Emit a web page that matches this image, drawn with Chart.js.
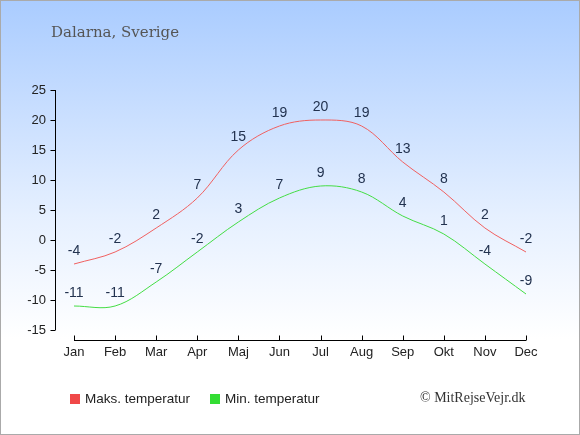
<!DOCTYPE html>
<html>
<head>
<meta charset="utf-8">
<script src="https://cdn.jsdelivr.net/npm/chart.js@4"></script>
<style>
  body { margin: 0; }
  #wrap {
    position: relative; width: 580px; height: 435px; box-sizing: border-box;
    border: 1px solid #aaaaaa;
    background: linear-gradient(to bottom, #aaccff 0%, #e6f0ff 50%, #ffffff 78%, #ffffff 100%);
    overflow: hidden;
  }
  #myChart { position: absolute; left: -1px; top: -1px; }
  .title { position: absolute; left: 50px; top: 22px; font: 15px "DejaVu Serif", serif; color: #555; }
  .leg { position: absolute; top: 390px; font: 13.5px "Liberation Sans", Arial, sans-serif; color: #222; }
  .leg i { display: inline-block; width: 10px; height: 10px; margin-right: 5px; vertical-align: -1px; }
  .copy { position: absolute; left: 419px; top: 389px; font: 14px "Liberation Serif", serif; color: #333; }
</style>
</head>
<body>
<div id="wrap">
  <canvas id="myChart" width="580" height="435"></canvas>
  <div class="title">Dalarna, Sverige</div>
  <div class="leg" style="left:69px"><i style="background:#f04848"></i>Maks. temperatur</div>
  <div class="leg" style="left:209px"><i style="background:#33dd33"></i>Min. temperatur</div>
  <div class="copy">© MitRejseVejr.dk</div>
</div>
<script>
const months = ['Jan', 'Feb', 'Mar', 'Apr', 'Maj', 'Jun', 'Jul', 'Aug', 'Sep', 'Okt', 'Nov', 'Dec'];
const maxTemp = [-4, -2, 2, 7, 15, 19, 20, 19, 13, 8, 2, -2];
const minTemp = [-11, -11, -7, -2, 3, 7, 9, 8, 4, 1, -4, -9];
const yTicks = [-15, -10, -5, 0, 5, 10, 15, 20, 25];

// axis lines drawn apart from the plot, plus value labels above the points
const extras = {
  id: 'extras',
  afterDraw(chart) {
    const ctx = chart.ctx;
    const x = chart.scales.x, y = chart.scales.y;
    ctx.save();
    ctx.strokeStyle = '#000';
    ctx.lineWidth = 1;
    const ax = 55.5;
    ctx.beginPath();
    ctx.moveTo(ax, y.getPixelForValue(25));
    ctx.lineTo(ax, y.getPixelForValue(-15));
    for (const t of yTicks) {
      const py = Math.round(y.getPixelForValue(t)) + 0.5;
      ctx.moveTo(ax - 5, py);
      ctx.lineTo(ax, py);
    }
    const ay = 340.5;
    ctx.moveTo(x.getPixelForValue(0), ay);
    ctx.lineTo(x.getPixelForValue(months.length - 1), ay);
    for (let i = 0; i < months.length; i++) {
      const px = Math.round(x.getPixelForValue(i)) + 0.5;
      ctx.moveTo(px, ay - 5);
      ctx.lineTo(px, ay);
    }
    ctx.stroke();

    ctx.fillStyle = '#22324f';
    ctx.font = '14px "Liberation Sans", Arial, sans-serif';
    ctx.textAlign = 'center';
    ctx.textBaseline = 'middle';
    chart.data.datasets.forEach((ds) => {
      ds.data.forEach((v, i) => {
        ctx.fillText(String(v), x.getPixelForValue(i), y.getPixelForValue(v) - 13);
      });
    });
    ctx.restore();
  }
};

const ctx = document.getElementById('myChart').getContext('2d');
const myChart = new Chart(ctx, {
  type: 'line',
  data: {
    labels: months,
    datasets: [{
      label: 'Maks. temperatur',
      data: maxTemp,
      borderColor: '#f06060',
      borderWidth: 1,
      pointRadius: 0,
      tension: 0.35
    }, {
      label: 'Min. temperatur',
      data: minTemp,
      borderColor: '#44dd44',
      borderWidth: 1,
      pointRadius: 0,
      tension: 0.35
    }]
  },
  options: {
    responsive: false,
    animation: false,
    layout: { padding: { top: 90, left: 0, right: 54, bottom: 0 } },
    plugins: { legend: { display: false }, tooltip: { enabled: false } },
    scales: {
      x: {
        offset: false,
        grid: { display: false, drawTicks: false },
        border: { display: false },
        ticks: { color: '#222', padding: 15, font: { size: 13, family: '"Liberation Sans", Arial, sans-serif' } },
        afterFit(scale) { scale.height = 105; }
      },
      y: {
        min: -15, max: 25,
        grid: { display: false, drawTicks: false },
        border: { display: false },
        ticks: { stepSize: 5, color: '#222', padding: 28, font: { size: 13, family: '"Liberation Sans", Arial, sans-serif' } },
        afterFit(scale) { scale.width = 74; }
      }
    }
  },
  plugins: [extras]
});
</script>
</body>
</html>
